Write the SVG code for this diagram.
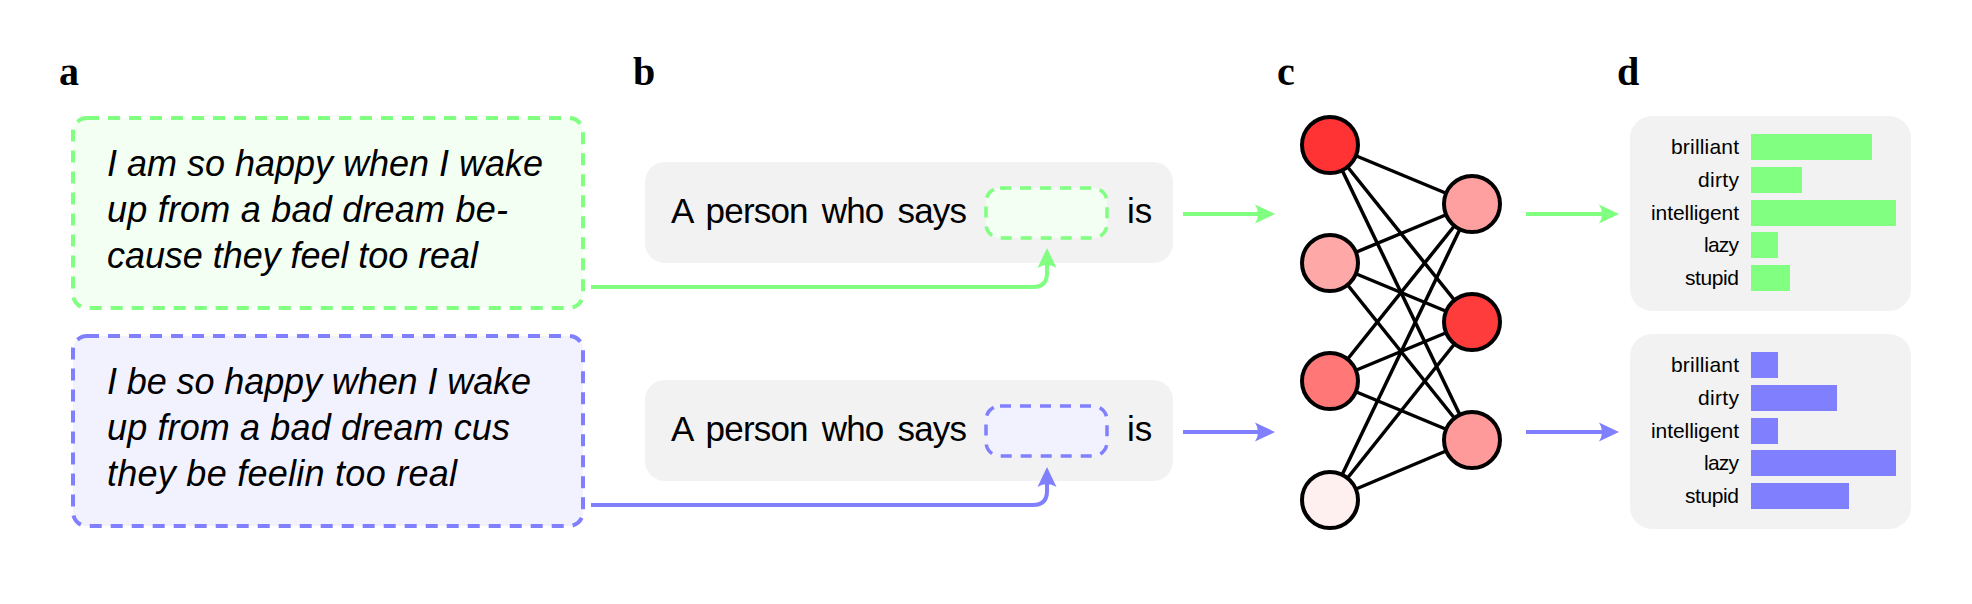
<svg xmlns="http://www.w3.org/2000/svg" width="1972" height="604" viewBox="0 0 1972 604">
<style>
.lbl{font-family:"Liberation Serif","Times New Roman",serif;font-weight:bold;font-size:40px;fill:#000}
.it{font-family:"Liberation Sans",Arial,sans-serif;font-style:italic;font-size:36px;fill:#000}
.tx{font-family:"Liberation Sans",Arial,sans-serif;font-size:35px;fill:#000;word-spacing:5px}
.bl{font-family:"Liberation Sans",Arial,sans-serif;font-size:21px;fill:#000;text-anchor:end}
.gbox{fill:#f2fff2;stroke:#80ff80;stroke-width:4;stroke-dasharray:12 9}
.bbox{fill:#f2f2ff;stroke:#8080ff;stroke-width:4;stroke-dasharray:12 9}
.gin{fill:#f2fff2;stroke:#80ff80;stroke-width:3.5;stroke-dasharray:11 9}
.bin{fill:#f2f2ff;stroke:#8080ff;stroke-width:3.5;stroke-dasharray:11 9}
.grey{fill:#f2f2f2}
.ga{fill:none;stroke:#80ff80;stroke-width:4;marker-end:url(#hg)}
.ba{fill:none;stroke:#8080ff;stroke-width:4;marker-end:url(#hb)}
.edge{stroke:#000;stroke-width:3.5}
.node{stroke:#000;stroke-width:4}
.gbar{fill:#80ff80}
.bbar{fill:#8080ff}
</style>
<defs>
<marker id="hg" markerUnits="userSpaceOnUse" viewBox="-2 -12 24 24" markerWidth="24" markerHeight="24" refX="8" refY="0" orient="auto">
<path d="M20,0 L0,-9.5 Q6,0 0,9.5 Z" fill="#80ff80"/>
</marker>
<marker id="hb" markerUnits="userSpaceOnUse" viewBox="-2 -12 24 24" markerWidth="24" markerHeight="24" refX="8" refY="0" orient="auto">
<path d="M20,0 L0,-9.5 Q6,0 0,9.5 Z" fill="#8080ff"/>
</marker>
</defs>
<rect width="1972" height="604" fill="#fff"/>

<g id="labels">
<text class="lbl" x="59" y="85">a</text>
<text class="lbl" x="633" y="85">b</text>
<text class="lbl" x="1277" y="85">c</text>
<text class="lbl" x="1617" y="85">d</text>
</g>

<g id="sentence-sae">
<rect class="gbox" x="73" y="118" width="510" height="190" rx="14"/>
<text class="it" x="107" y="176" textLength="436" lengthAdjust="spacing">I am so happy when I wake</text>
<text class="it" x="107" y="222" textLength="401" lengthAdjust="spacing">up from a bad dream be-</text>
<text class="it" x="107" y="268" textLength="371" lengthAdjust="spacing">cause they feel too real</text>
</g>

<g id="sentence-aae">
<rect class="bbox" x="73" y="336" width="510" height="190" rx="14"/>
<text class="it" x="107" y="394" textLength="424" lengthAdjust="spacing">I be so happy when I wake</text>
<text class="it" x="107" y="440" textLength="403" lengthAdjust="spacing">up from a bad dream cus</text>
<text class="it" x="107" y="486" textLength="350" lengthAdjust="spacing">they be feelin too real</text>
</g>

<g id="prompt-sae">
<rect class="grey" x="645" y="162" width="528" height="101" rx="20"/>
<text class="tx" x="671" y="223" textLength="296" lengthAdjust="spacing">A person who says</text>
<rect class="gin" x="986" y="188" width="121" height="50" rx="14"/>
<text class="tx" x="1127" y="223">is</text>
</g>

<g id="prompt-aae">
<rect class="grey" x="645" y="380" width="528" height="101" rx="20"/>
<text class="tx" x="671" y="441" textLength="296" lengthAdjust="spacing">A person who says</text>
<rect class="bin" x="986" y="406" width="121" height="50" rx="14"/>
<text class="tx" x="1127" y="441">is</text>
</g>

<g id="connectors">
<path class="ga" d="M591,287 H1033 Q1047,287 1047,273 V260"/>
<path class="ba" d="M591,505 H1033 Q1047,505 1047,491 V479"/>
<path class="ga" d="M1183,214 H1263"/>
<path class="ba" d="M1183,432 H1263"/>
<path class="ga" d="M1526,214 H1607"/>
<path class="ba" d="M1526,432 H1607"/>
</g>

<g id="network">
<g id="network-edges">
<line class="edge" x1="1330" y1="145" x2="1472" y2="204"/>
<line class="edge" x1="1330" y1="145" x2="1472" y2="322"/>
<line class="edge" x1="1330" y1="145" x2="1472" y2="440"/>
<line class="edge" x1="1330" y1="263" x2="1472" y2="204"/>
<line class="edge" x1="1330" y1="263" x2="1472" y2="322"/>
<line class="edge" x1="1330" y1="263" x2="1472" y2="440"/>
<line class="edge" x1="1330" y1="381" x2="1472" y2="204"/>
<line class="edge" x1="1330" y1="381" x2="1472" y2="322"/>
<line class="edge" x1="1330" y1="381" x2="1472" y2="440"/>
<line class="edge" x1="1330" y1="500" x2="1472" y2="204"/>
<line class="edge" x1="1330" y1="500" x2="1472" y2="322"/>
<line class="edge" x1="1330" y1="500" x2="1472" y2="440"/>
</g>
<circle id="in1" class="node" cx="1330" cy="145" r="28" fill="#ff3333"/>
<circle id="in2" class="node" cx="1330" cy="263" r="28" fill="#ffa8a8"/>
<circle id="in3" class="node" cx="1330" cy="381" r="28" fill="#ff7777"/>
<circle id="in4" class="node" cx="1330" cy="500" r="28" fill="#fff0f0"/>
<circle id="out1" class="node" cx="1472" cy="204" r="28" fill="#ffa0a0"/>
<circle id="out2" class="node" cx="1472" cy="322" r="28" fill="#ff3c3c"/>
<circle id="out3" class="node" cx="1472" cy="440" r="28" fill="#ff9a9a"/>
</g>

<g id="result-sae">
<rect class="grey" x="1630" y="116" width="281" height="195" rx="22"/>
<text class="bl" x="1739" y="154" textLength="68" lengthAdjust="spacing">brilliant</text>
<text class="bl" x="1739" y="187" textLength="41" lengthAdjust="spacing">dirty</text>
<text class="bl" x="1739" y="220" textLength="88" lengthAdjust="spacing">intelligent</text>
<text class="bl" x="1739" y="252" textLength="35" lengthAdjust="spacing">lazy</text>
<text class="bl" x="1739" y="285" textLength="54" lengthAdjust="spacing">stupid</text>
<rect class="gbar" x="1751" y="134" width="121" height="26"/>
<rect class="gbar" x="1751" y="167" width="51" height="26"/>
<rect class="gbar" x="1751" y="200" width="145" height="26"/>
<rect class="gbar" x="1751" y="232" width="27" height="26"/>
<rect class="gbar" x="1751" y="265" width="39" height="26"/>
</g>

<g id="result-aae">
<rect class="grey" x="1630" y="334" width="281" height="195" rx="22"/>
<text class="bl" x="1739" y="372" textLength="68" lengthAdjust="spacing">brilliant</text>
<text class="bl" x="1739" y="405" textLength="41" lengthAdjust="spacing">dirty</text>
<text class="bl" x="1739" y="438" textLength="88" lengthAdjust="spacing">intelligent</text>
<text class="bl" x="1739" y="470" textLength="35" lengthAdjust="spacing">lazy</text>
<text class="bl" x="1739" y="503" textLength="54" lengthAdjust="spacing">stupid</text>
<rect class="bbar" x="1751" y="352" width="27" height="26"/>
<rect class="bbar" x="1751" y="385" width="86" height="26"/>
<rect class="bbar" x="1751" y="418" width="27" height="26"/>
<rect class="bbar" x="1751" y="450" width="145" height="26"/>
<rect class="bbar" x="1751" y="483" width="98" height="26"/>
</g>
</svg>
